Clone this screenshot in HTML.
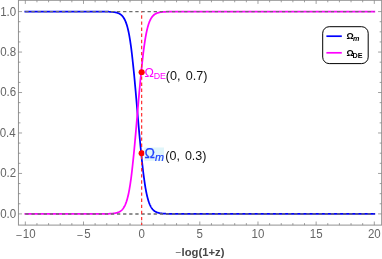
<!DOCTYPE html>
<html><head><meta charset="utf-8"><style>
html,body{margin:0;padding:0;background:#fff}
svg{display:block;will-change:transform;font-family:"Liberation Sans",sans-serif}
</style></head><body>
<svg width="382" height="259" viewBox="0 0 382 259">
<rect width="382" height="259" fill="#fff"/>
<path d="M25.32,11.60 L25.61,11.60 L25.90,11.60 L26.19,11.60 L26.48,11.60 L26.77,11.60 L27.06,11.60 L27.36,11.60 L27.65,11.60 L27.94,11.60 L28.23,11.60 L28.52,11.60 L28.81,11.60 L29.10,11.60 L29.39,11.60 L29.68,11.60 L29.97,11.60 L30.26,11.60 L30.55,11.60 L30.85,11.60 L31.14,11.60 L31.43,11.60 L31.72,11.60 L32.01,11.60 L32.30,11.60 L32.59,11.60 L32.88,11.60 L33.17,11.60 L33.46,11.60 L33.75,11.60 L34.04,11.60 L34.34,11.60 L34.63,11.60 L34.92,11.60 L35.21,11.60 L35.50,11.60 L35.79,11.60 L36.08,11.60 L36.37,11.60 L36.66,11.60 L36.95,11.60 L37.24,11.60 L37.53,11.60 L37.83,11.60 L38.12,11.60 L38.41,11.60 L38.70,11.60 L38.99,11.60 L39.28,11.60 L39.57,11.60 L39.86,11.60 L40.15,11.60 L40.44,11.60 L40.73,11.60 L41.02,11.60 L41.32,11.60 L41.61,11.60 L41.90,11.60 L42.19,11.60 L42.48,11.60 L42.77,11.60 L43.06,11.60 L43.35,11.60 L43.64,11.60 L43.93,11.60 L44.22,11.60 L44.51,11.60 L44.81,11.60 L45.10,11.60 L45.39,11.60 L45.68,11.60 L45.97,11.60 L46.26,11.60 L46.55,11.60 L46.84,11.60 L47.13,11.60 L47.42,11.60 L47.71,11.60 L48.00,11.60 L48.30,11.60 L48.59,11.60 L48.88,11.60 L49.17,11.60 L49.46,11.60 L49.75,11.60 L50.04,11.60 L50.33,11.60 L50.62,11.60 L50.91,11.60 L51.20,11.60 L51.49,11.60 L51.79,11.60 L52.08,11.60 L52.37,11.60 L52.66,11.60 L52.95,11.60 L53.24,11.60 L53.53,11.60 L53.82,11.60 L54.11,11.60 L54.40,11.60 L54.69,11.60 L54.98,11.60 L55.27,11.60 L55.57,11.60 L55.86,11.60 L56.15,11.60 L56.44,11.60 L56.73,11.60 L57.02,11.60 L57.31,11.60 L57.60,11.60 L57.89,11.60 L58.18,11.60 L58.47,11.60 L58.76,11.60 L59.06,11.60 L59.35,11.60 L59.64,11.60 L59.93,11.60 L60.22,11.60 L60.51,11.60 L60.80,11.60 L61.09,11.60 L61.38,11.60 L61.67,11.60 L61.96,11.60 L62.25,11.60 L62.55,11.60 L62.84,11.60 L63.13,11.60 L63.42,11.60 L63.71,11.60 L64.00,11.60 L64.29,11.60 L64.58,11.60 L64.87,11.60 L65.16,11.60 L65.45,11.60 L65.74,11.60 L66.04,11.60 L66.33,11.60 L66.62,11.60 L66.91,11.60 L67.20,11.60 L67.49,11.60 L67.78,11.60 L68.07,11.60 L68.36,11.60 L68.65,11.60 L68.94,11.60 L69.23,11.60 L69.53,11.60 L69.82,11.60 L70.11,11.60 L70.40,11.60 L70.69,11.60 L70.98,11.60 L71.27,11.60 L71.56,11.60 L71.85,11.60 L72.14,11.60 L72.43,11.60 L72.72,11.60 L73.02,11.60 L73.31,11.60 L73.60,11.60 L73.89,11.60 L74.18,11.60 L74.47,11.60 L74.76,11.60 L75.05,11.60 L75.34,11.60 L75.63,11.60 L75.92,11.60 L76.21,11.60 L76.51,11.60 L76.80,11.60 L77.09,11.60 L77.38,11.60 L77.67,11.60 L77.96,11.60 L78.25,11.60 L78.54,11.60 L78.83,11.60 L79.12,11.60 L79.41,11.60 L79.70,11.60 L80.00,11.60 L80.29,11.60 L80.58,11.60 L80.87,11.60 L81.16,11.60 L81.45,11.60 L81.74,11.60 L82.03,11.60 L82.32,11.60 L82.61,11.60 L82.90,11.60 L83.19,11.60 L83.49,11.60 L83.76,11.60 L84.03,11.60 L84.31,11.60 L84.58,11.60 L84.86,11.60 L85.13,11.60 L85.41,11.60 L85.68,11.60 L85.96,11.60 L86.23,11.60 L86.51,11.60 L86.78,11.60 L87.05,11.60 L87.33,11.60 L87.60,11.60 L87.88,11.60 L88.15,11.60 L88.43,11.60 L88.70,11.60 L88.98,11.60 L89.25,11.60 L89.53,11.60 L89.80,11.60 L90.07,11.60 L90.35,11.60 L90.62,11.60 L90.90,11.60 L91.17,11.60 L91.45,11.60 L91.72,11.60 L92.00,11.60 L92.27,11.60 L92.55,11.60 L92.82,11.60 L93.10,11.60 L93.37,11.60 L93.64,11.60 L93.92,11.60 L94.19,11.60 L94.47,11.60 L94.74,11.60 L95.02,11.60 L95.29,11.60 L95.57,11.60 L95.84,11.60 L96.12,11.60 L96.39,11.60 L96.66,11.61 L96.94,11.61 L97.21,11.61 L97.49,11.61 L97.76,11.61 L98.04,11.61 L98.31,11.61 L98.59,11.61 L98.86,11.61 L99.14,11.61 L99.41,11.61 L99.68,11.61 L99.96,11.61 L100.23,11.61 L100.51,11.62 L100.78,11.62 L101.06,11.62 L101.33,11.62 L101.61,11.62 L101.88,11.62 L102.16,11.62 L102.43,11.63 L102.71,11.63 L102.98,11.63 L103.25,11.63 L103.53,11.63 L103.80,11.64 L104.08,11.64 L104.35,11.64 L104.63,11.65 L104.90,11.65 L105.18,11.65 L105.45,11.66 L105.74,11.66 L106.03,11.67 L106.32,11.67 L106.61,11.68 L106.91,11.68 L107.20,11.69 L107.49,11.70 L107.78,11.71 L108.07,11.71 L108.36,11.72 L108.65,11.73 L108.94,11.74 L109.23,11.75 L109.52,11.77 L109.81,11.78 L110.10,11.79 L110.40,11.81 L110.69,11.82 L110.98,11.84 L111.27,11.86 L111.56,11.88 L111.85,11.90 L112.14,11.93 L112.43,11.95 L112.72,11.98 L113.01,12.01 L113.30,12.04 L113.59,12.07 L113.88,12.11 L114.18,12.15 L114.47,12.19 L114.76,12.24 L115.05,12.29 L115.34,12.34 L115.63,12.40 L115.92,12.46 L116.21,12.53 L116.50,12.60 L116.79,12.68 L117.08,12.76 L117.37,12.85 L117.67,12.95 L117.96,13.05 L118.25,13.17 L118.54,13.29 L118.83,13.42 L119.12,13.56 L119.41,13.71 L119.70,13.87 L119.99,14.05 L120.28,14.24 L120.57,14.44 L120.86,14.66 L121.16,14.89 L121.45,15.14 L121.74,15.41 L122.03,15.70 L122.32,16.01 L122.61,16.35 L122.90,16.71 L123.19,17.10 L123.48,17.51 L123.77,17.96 L124.06,18.44 L124.35,18.95 L124.65,19.50 L124.94,20.09 L125.23,20.72 L125.52,21.40 L125.81,22.12 L126.10,22.90 L126.39,23.72 L126.68,24.61 L126.97,25.55 L127.26,26.56 L127.55,27.63 L127.84,28.77 L128.14,29.99 L128.43,31.28 L128.72,32.66 L129.01,34.11 L129.30,35.66 L129.59,37.29 L129.88,39.02 L130.17,40.85 L130.46,42.78 L130.75,44.81 L131.04,46.94 L131.33,49.18 L131.63,51.53 L131.92,53.99 L132.21,56.56 L132.50,59.23 L132.79,62.02 L133.11,64.91 L133.42,67.91 L133.74,71.01 L134.06,74.20 L134.38,77.49 L134.70,80.86 L135.01,84.32 L135.33,87.85 L135.65,91.44 L135.97,95.09 L136.28,98.79 L136.60,102.53 L136.92,106.30 L137.24,110.09 L137.56,113.88 L137.89,117.67 L138.22,121.44 L138.55,125.19 L138.88,128.91 L139.21,132.58 L139.54,136.20 L139.88,139.76 L140.21,143.24 L140.54,146.65 L140.87,149.98 L141.20,153.21 L141.51,156.35 L141.81,159.39 L142.12,162.32 L142.42,165.15 L142.73,167.87 L143.03,170.48 L143.34,172.99 L143.65,175.38 L143.95,177.66 L144.26,179.84 L144.55,181.91 L144.84,183.88 L145.13,185.75 L145.42,187.52 L145.71,189.19 L146.00,190.77 L146.29,192.26 L146.58,193.67 L146.88,195.00 L147.17,196.24 L147.46,197.41 L147.75,198.52 L148.04,199.55 L148.33,200.52 L148.62,201.42 L148.91,202.27 L149.20,203.07 L149.49,203.81 L149.78,204.51 L150.07,205.16 L150.37,205.76 L150.66,206.33 L150.95,206.86 L151.24,207.35 L151.53,207.81 L151.82,208.24 L152.11,208.63 L152.40,209.01 L152.69,209.35 L152.98,209.67 L153.27,209.97 L153.56,210.25 L153.86,210.51 L154.15,210.75 L154.44,210.98 L154.73,211.18 L155.02,211.38 L155.31,211.56 L155.60,211.73 L155.89,211.88 L156.18,212.03 L156.47,212.16 L156.76,212.28 L157.05,212.40 L157.35,212.51 L157.64,212.61 L157.93,212.70 L158.22,212.79 L158.51,212.87 L158.80,212.94 L159.09,213.01 L159.38,213.07 L159.67,213.13 L159.96,213.19 L160.25,213.24 L160.54,213.29 L160.84,213.33 L161.13,213.37 L161.42,213.41 L161.71,213.45 L162.00,213.48 L162.29,213.51 L162.58,213.54 L162.87,213.56 L163.16,213.59 L163.45,213.61 L163.74,213.63 L164.03,213.65 L164.33,213.67 L164.62,213.69 L164.91,213.70 L165.20,213.72 L165.49,213.73 L165.78,213.74 L166.07,213.75 L166.36,213.76 L166.65,213.77 L166.94,213.78 L167.23,213.79 L167.52,213.80 L167.82,213.81 L168.11,213.81 L168.40,213.82 L168.69,213.82 L168.98,213.83 L169.27,213.84 L169.56,213.84 L169.85,213.84 L170.14,213.85 L170.43,213.85 L170.72,213.86 L171.01,213.86 L171.30,213.86 L171.60,213.86 L171.89,213.87 L172.18,213.87 L172.47,213.87 L172.76,213.87 L173.05,213.88 L173.34,213.88 L173.63,213.88 L173.92,213.88 L174.21,213.88 L174.50,213.88 L174.79,213.88 L175.09,213.89 L175.38,213.89 L175.67,213.89 L175.96,213.89 L176.25,213.89 L176.54,213.89 L176.84,213.89 L177.13,213.89 L177.43,213.89 L177.72,213.89 L178.02,213.89 L178.31,213.89 L178.61,213.89 L178.90,213.89 L179.19,213.89 L179.49,213.90 L179.78,213.90 L180.08,213.90 L180.37,213.90 L180.67,213.90 L180.96,213.90 L181.26,213.90 L181.55,213.90 L181.85,213.90 L182.14,213.90 L182.44,213.90 L182.73,213.90 L183.02,213.90 L183.32,213.90 L183.61,213.90 L183.91,213.90 L184.20,213.90 L184.50,213.90 L184.79,213.90 L185.09,213.90 L185.38,213.90 L185.68,213.90 L185.97,213.90 L186.26,213.90 L186.56,213.90 L186.85,213.90 L187.15,213.90 L187.44,213.90 L187.74,213.90 L188.03,213.90 L188.33,213.90 L188.62,213.90 L188.92,213.90 L189.21,213.90 L189.50,213.90 L189.80,213.90 L190.09,213.90 L190.39,213.90 L190.68,213.90 L190.98,213.90 L191.27,213.90 L191.57,213.90 L191.86,213.90 L192.16,213.90 L192.45,213.90 L192.75,213.90 L193.04,213.90 L193.33,213.90 L193.63,213.90 L193.92,213.90 L194.22,213.90 L194.51,213.90 L194.81,213.90 L195.10,213.90 L195.40,213.90 L195.69,213.90 L195.99,213.90 L196.28,213.90 L196.57,213.90 L196.87,213.90 L197.16,213.90 L197.46,213.90 L197.75,213.90 L198.05,213.90 L198.34,213.90 L198.64,213.90 L198.93,213.90 L199.23,213.90 L199.52,213.90 L199.81,213.90 L200.11,213.90 L200.40,213.90 L200.69,213.90 L200.98,213.90 L201.27,213.90 L201.56,213.90 L201.85,213.90 L202.14,213.90 L202.43,213.90 L202.72,213.90 L203.01,213.90 L203.30,213.90 L203.60,213.90 L203.89,213.90 L204.18,213.90 L204.47,213.90 L204.76,213.90 L205.05,213.90 L205.34,213.90 L205.63,213.90 L205.92,213.90 L206.21,213.90 L206.50,213.90 L206.79,213.90 L207.09,213.90 L207.38,213.90 L207.67,213.90 L207.96,213.90 L208.25,213.90 L208.54,213.90 L208.83,213.90 L209.12,213.90 L209.41,213.90 L209.70,213.90 L209.99,213.90 L210.28,213.90 L210.58,213.90 L210.87,213.90 L211.16,213.90 L211.45,213.90 L211.74,213.90 L212.03,213.90 L212.32,213.90 L212.61,213.90 L212.90,213.90 L213.19,213.90 L213.48,213.90 L213.77,213.90 L214.07,213.90 L214.36,213.90 L214.65,213.90 L214.94,213.90 L215.23,213.90 L215.52,213.90 L215.81,213.90 L216.10,213.90 L216.39,213.90 L216.68,213.90 L216.97,213.90 L217.26,213.90 L217.56,213.90 L217.85,213.90 L218.14,213.90 L218.43,213.90 L218.72,213.90 L219.01,213.90 L219.30,213.90 L219.59,213.90 L219.88,213.90 L220.17,213.90 L220.46,213.90 L220.75,213.90 L221.05,213.90 L221.34,213.90 L221.63,213.90 L221.92,213.90 L222.21,213.90 L222.50,213.90 L222.79,213.90 L223.08,213.90 L223.37,213.90 L223.66,213.90 L223.95,213.90 L224.24,213.90 L224.54,213.90 L224.83,213.90 L225.12,213.90 L225.41,213.90 L225.70,213.90 L225.99,213.90 L226.28,213.90 L226.57,213.90 L226.86,213.90 L227.15,213.90 L227.44,213.90 L227.73,213.90 L228.03,213.90 L228.32,213.90 L228.61,213.90 L228.90,213.90 L229.19,213.90 L229.48,213.90 L229.77,213.90 L230.06,213.90 L230.35,213.90 L230.64,213.90 L230.93,213.90 L231.22,213.90 L231.51,213.90 L231.81,213.90 L232.10,213.90 L232.39,213.90 L232.68,213.90 L232.97,213.90 L233.26,213.90 L233.55,213.90 L233.84,213.90 L234.13,213.90 L234.42,213.90 L234.71,213.90 L235.00,213.90 L235.30,213.90 L235.59,213.90 L235.88,213.90 L236.17,213.90 L236.46,213.90 L236.75,213.90 L237.04,213.90 L237.33,213.90 L237.62,213.90 L237.91,213.90 L238.20,213.90 L238.49,213.90 L238.79,213.90 L239.08,213.90 L239.37,213.90 L239.66,213.90 L239.95,213.90 L240.24,213.90 L240.53,213.90 L240.82,213.90 L241.11,213.90 L241.40,213.90 L241.69,213.90 L241.98,213.90 L242.28,213.90 L242.57,213.90 L242.86,213.90 L243.15,213.90 L243.44,213.90 L243.73,213.90 L244.02,213.90 L244.31,213.90 L244.60,213.90 L244.89,213.90 L245.18,213.90 L245.47,213.90 L245.77,213.90 L246.06,213.90 L246.35,213.90 L246.64,213.90 L246.93,213.90 L247.22,213.90 L247.51,213.90 L247.80,213.90 L248.09,213.90 L248.38,213.90 L248.67,213.90 L248.96,213.90 L249.26,213.90 L249.55,213.90 L249.84,213.90 L250.13,213.90 L250.42,213.90 L250.71,213.90 L251.00,213.90 L251.29,213.90 L251.58,213.90 L251.87,213.90 L252.16,213.90 L252.45,213.90 L252.75,213.90 L253.04,213.90 L253.33,213.90 L253.62,213.90 L253.91,213.90 L254.20,213.90 L254.49,213.90 L254.78,213.90 L255.07,213.90 L255.36,213.90 L255.65,213.90 L255.94,213.90 L256.24,213.90 L256.53,213.90 L256.82,213.90 L257.11,213.90 L257.40,213.90 L257.69,213.90 L257.98,213.90 L258.27,213.90 L258.56,213.90 L258.85,213.90 L259.14,213.90 L259.43,213.90 L259.72,213.90 L260.02,213.90 L260.31,213.90 L260.60,213.90 L260.89,213.90 L261.18,213.90 L261.47,213.90 L261.76,213.90 L262.05,213.90 L262.34,213.90 L262.63,213.90 L262.92,213.90 L263.21,213.90 L263.51,213.90 L263.80,213.90 L264.09,213.90 L264.38,213.90 L264.67,213.90 L264.96,213.90 L265.25,213.90 L265.54,213.90 L265.83,213.90 L266.12,213.90 L266.41,213.90 L266.70,213.90 L267.00,213.90 L267.29,213.90 L267.58,213.90 L267.87,213.90 L268.16,213.90 L268.45,213.90 L268.74,213.90 L269.03,213.90 L269.32,213.90 L269.61,213.90 L269.90,213.90 L270.19,213.90 L270.49,213.90 L270.78,213.90 L271.07,213.90 L271.36,213.90 L271.65,213.90 L271.94,213.90 L272.23,213.90 L272.52,213.90 L272.81,213.90 L273.10,213.90 L273.39,213.90 L273.68,213.90 L273.98,213.90 L274.27,213.90 L274.56,213.90 L274.85,213.90 L275.14,213.90 L275.43,213.90 L275.72,213.90 L276.01,213.90 L276.30,213.90 L276.59,213.90 L276.88,213.90 L277.17,213.90 L277.47,213.90 L277.76,213.90 L278.05,213.90 L278.34,213.90 L278.63,213.90 L278.92,213.90 L279.21,213.90 L279.50,213.90 L279.79,213.90 L280.08,213.90 L280.37,213.90 L280.66,213.90 L280.96,213.90 L281.25,213.90 L281.54,213.90 L281.83,213.90 L282.12,213.90 L282.41,213.90 L282.70,213.90 L282.99,213.90 L283.28,213.90 L283.57,213.90 L283.86,213.90 L284.15,213.90 L284.45,213.90 L284.74,213.90 L285.03,213.90 L285.32,213.90 L285.61,213.90 L285.90,213.90 L286.19,213.90 L286.48,213.90 L286.77,213.90 L287.06,213.90 L287.35,213.90 L287.64,213.90 L287.93,213.90 L288.23,213.90 L288.52,213.90 L288.81,213.90 L289.10,213.90 L289.39,213.90 L289.68,213.90 L289.97,213.90 L290.26,213.90 L290.55,213.90 L290.84,213.90 L291.13,213.90 L291.42,213.90 L291.72,213.90 L292.01,213.90 L292.30,213.90 L292.59,213.90 L292.88,213.90 L293.17,213.90 L293.46,213.90 L293.75,213.90 L294.04,213.90 L294.33,213.90 L294.62,213.90 L294.91,213.90 L295.21,213.90 L295.50,213.90 L295.79,213.90 L296.08,213.90 L296.37,213.90 L296.66,213.90 L296.95,213.90 L297.24,213.90 L297.53,213.90 L297.82,213.90 L298.11,213.90 L298.40,213.90 L298.70,213.90 L298.99,213.90 L299.28,213.90 L299.57,213.90 L299.86,213.90 L300.15,213.90 L300.44,213.90 L300.73,213.90 L301.02,213.90 L301.31,213.90 L301.60,213.90 L301.89,213.90 L302.19,213.90 L302.48,213.90 L302.77,213.90 L303.06,213.90 L303.35,213.90 L303.64,213.90 L303.93,213.90 L304.22,213.90 L304.51,213.90 L304.80,213.90 L305.09,213.90 L305.38,213.90 L305.68,213.90 L305.97,213.90 L306.26,213.90 L306.55,213.90 L306.84,213.90 L307.13,213.90 L307.42,213.90 L307.71,213.90 L308.00,213.90 L308.29,213.90 L308.58,213.90 L308.87,213.90 L309.17,213.90 L309.46,213.90 L309.75,213.90 L310.04,213.90 L310.33,213.90 L310.62,213.90 L310.91,213.90 L311.20,213.90 L311.49,213.90 L311.78,213.90 L312.07,213.90 L312.36,213.90 L312.66,213.90 L312.95,213.90 L313.24,213.90 L313.53,213.90 L313.82,213.90 L314.11,213.90 L314.40,213.90 L314.69,213.90 L314.98,213.90 L315.27,213.90 L315.56,213.90 L315.85,213.90 L316.14,213.90 L316.44,213.90 L316.73,213.90 L317.02,213.90 L317.31,213.90 L317.60,213.90 L317.89,213.90 L318.18,213.90 L318.47,213.90 L318.76,213.90 L319.05,213.90 L319.34,213.90 L319.63,213.90 L319.93,213.90 L320.22,213.90 L320.51,213.90 L320.80,213.90 L321.09,213.90 L321.38,213.90 L321.67,213.90 L321.96,213.90 L322.25,213.90 L322.54,213.90 L322.83,213.90 L323.12,213.90 L323.42,213.90 L323.71,213.90 L324.00,213.90 L324.29,213.90 L324.58,213.90 L324.87,213.90 L325.16,213.90 L325.45,213.90 L325.74,213.90 L326.03,213.90 L326.32,213.90 L326.61,213.90 L326.91,213.90 L327.20,213.90 L327.49,213.90 L327.78,213.90 L328.07,213.90 L328.36,213.90 L328.65,213.90 L328.94,213.90 L329.23,213.90 L329.52,213.90 L329.81,213.90 L330.10,213.90 L330.40,213.90 L330.69,213.90 L330.98,213.90 L331.27,213.90 L331.56,213.90 L331.85,213.90 L332.14,213.90 L332.43,213.90 L332.72,213.90 L333.01,213.90 L333.30,213.90 L333.59,213.90 L333.89,213.90 L334.18,213.90 L334.47,213.90 L334.76,213.90 L335.05,213.90 L335.34,213.90 L335.63,213.90 L335.92,213.90 L336.21,213.90 L336.50,213.90 L336.79,213.90 L337.08,213.90 L337.38,213.90 L337.67,213.90 L337.96,213.90 L338.25,213.90 L338.54,213.90 L338.83,213.90 L339.12,213.90 L339.41,213.90 L339.70,213.90 L339.99,213.90 L340.28,213.90 L340.57,213.90 L340.87,213.90 L341.16,213.90 L341.45,213.90 L341.74,213.90 L342.03,213.90 L342.32,213.90 L342.61,213.90 L342.90,213.90 L343.19,213.90 L343.48,213.90 L343.77,213.90 L344.06,213.90 L344.36,213.90 L344.65,213.90 L344.94,213.90 L345.23,213.90 L345.52,213.90 L345.81,213.90 L346.10,213.90 L346.39,213.90 L346.68,213.90 L346.97,213.90 L347.26,213.90 L347.55,213.90 L347.84,213.90 L348.14,213.90 L348.43,213.90 L348.72,213.90 L349.01,213.90 L349.30,213.90 L349.59,213.90 L349.88,213.90 L350.17,213.90 L350.46,213.90 L350.75,213.90 L351.04,213.90 L351.33,213.90 L351.63,213.90 L351.92,213.90 L352.21,213.90 L352.50,213.90 L352.79,213.90 L353.08,213.90 L353.37,213.90 L353.66,213.90 L353.95,213.90 L354.24,213.90 L354.53,213.90 L354.82,213.90 L355.12,213.90 L355.41,213.90 L355.70,213.90 L355.99,213.90 L356.28,213.90 L356.57,213.90 L356.86,213.90 L357.15,213.90 L357.44,213.90 L357.73,213.90 L358.02,213.90 L358.31,213.90 L358.61,213.90 L358.90,213.90 L359.19,213.90 L359.48,213.90 L359.77,213.90 L360.06,213.90 L360.35,213.90 L360.64,213.90 L360.93,213.90 L361.22,213.90 L361.51,213.90 L361.80,213.90 L362.10,213.90 L362.39,213.90 L362.68,213.90 L362.97,213.90 L363.26,213.90 L363.55,213.90 L363.84,213.90 L364.13,213.90 L364.42,213.90 L364.71,213.90 L365.00,213.90 L365.29,213.90 L365.59,213.90 L365.88,213.90 L366.17,213.90 L366.46,213.90 L366.75,213.90 L367.04,213.90 L367.33,213.90 L367.62,213.90 L367.91,213.90 L368.20,213.90 L368.49,213.90 L368.78,213.90 L369.08,213.90 L369.37,213.90 L369.66,213.90 L369.95,213.90 L370.24,213.90 L370.53,213.90 L370.82,213.90 L371.11,213.90 L371.40,213.90 L371.69,213.90 L371.98,213.90 L372.27,213.90 L372.57,213.90 L372.86,213.90 L373.15,213.90 L373.44,213.90 L373.73,213.90 L374.02,213.90 L374.31,213.90" fill="none" stroke="#0000ff" stroke-width="1.75" stroke-linejoin="round" stroke-linecap="square"/>
<path d="M25.32,213.90 L25.61,213.90 L25.90,213.90 L26.19,213.90 L26.48,213.90 L26.77,213.90 L27.06,213.90 L27.36,213.90 L27.65,213.90 L27.94,213.90 L28.23,213.90 L28.52,213.90 L28.81,213.90 L29.10,213.90 L29.39,213.90 L29.68,213.90 L29.97,213.90 L30.26,213.90 L30.55,213.90 L30.85,213.90 L31.14,213.90 L31.43,213.90 L31.72,213.90 L32.01,213.90 L32.30,213.90 L32.59,213.90 L32.88,213.90 L33.17,213.90 L33.46,213.90 L33.75,213.90 L34.04,213.90 L34.34,213.90 L34.63,213.90 L34.92,213.90 L35.21,213.90 L35.50,213.90 L35.79,213.90 L36.08,213.90 L36.37,213.90 L36.66,213.90 L36.95,213.90 L37.24,213.90 L37.53,213.90 L37.83,213.90 L38.12,213.90 L38.41,213.90 L38.70,213.90 L38.99,213.90 L39.28,213.90 L39.57,213.90 L39.86,213.90 L40.15,213.90 L40.44,213.90 L40.73,213.90 L41.02,213.90 L41.32,213.90 L41.61,213.90 L41.90,213.90 L42.19,213.90 L42.48,213.90 L42.77,213.90 L43.06,213.90 L43.35,213.90 L43.64,213.90 L43.93,213.90 L44.22,213.90 L44.51,213.90 L44.81,213.90 L45.10,213.90 L45.39,213.90 L45.68,213.90 L45.97,213.90 L46.26,213.90 L46.55,213.90 L46.84,213.90 L47.13,213.90 L47.42,213.90 L47.71,213.90 L48.00,213.90 L48.30,213.90 L48.59,213.90 L48.88,213.90 L49.17,213.90 L49.46,213.90 L49.75,213.90 L50.04,213.90 L50.33,213.90 L50.62,213.90 L50.91,213.90 L51.20,213.90 L51.49,213.90 L51.79,213.90 L52.08,213.90 L52.37,213.90 L52.66,213.90 L52.95,213.90 L53.24,213.90 L53.53,213.90 L53.82,213.90 L54.11,213.90 L54.40,213.90 L54.69,213.90 L54.98,213.90 L55.27,213.90 L55.57,213.90 L55.86,213.90 L56.15,213.90 L56.44,213.90 L56.73,213.90 L57.02,213.90 L57.31,213.90 L57.60,213.90 L57.89,213.90 L58.18,213.90 L58.47,213.90 L58.76,213.90 L59.06,213.90 L59.35,213.90 L59.64,213.90 L59.93,213.90 L60.22,213.90 L60.51,213.90 L60.80,213.90 L61.09,213.90 L61.38,213.90 L61.67,213.90 L61.96,213.90 L62.25,213.90 L62.55,213.90 L62.84,213.90 L63.13,213.90 L63.42,213.90 L63.71,213.90 L64.00,213.90 L64.29,213.90 L64.58,213.90 L64.87,213.90 L65.16,213.90 L65.45,213.90 L65.74,213.90 L66.04,213.90 L66.33,213.90 L66.62,213.90 L66.91,213.90 L67.20,213.90 L67.49,213.90 L67.78,213.90 L68.07,213.90 L68.36,213.90 L68.65,213.90 L68.94,213.90 L69.23,213.90 L69.53,213.90 L69.82,213.90 L70.11,213.90 L70.40,213.90 L70.69,213.90 L70.98,213.90 L71.27,213.90 L71.56,213.90 L71.85,213.90 L72.14,213.90 L72.43,213.90 L72.72,213.90 L73.02,213.90 L73.31,213.90 L73.60,213.90 L73.89,213.90 L74.18,213.90 L74.47,213.90 L74.76,213.90 L75.05,213.90 L75.34,213.90 L75.63,213.90 L75.92,213.90 L76.21,213.90 L76.51,213.90 L76.80,213.90 L77.09,213.90 L77.38,213.90 L77.67,213.90 L77.96,213.90 L78.25,213.90 L78.54,213.90 L78.83,213.90 L79.12,213.90 L79.41,213.90 L79.70,213.90 L80.00,213.90 L80.29,213.90 L80.58,213.90 L80.87,213.90 L81.16,213.90 L81.45,213.90 L81.74,213.90 L82.03,213.90 L82.32,213.90 L82.61,213.90 L82.90,213.90 L83.19,213.90 L83.49,213.90 L83.76,213.90 L84.03,213.90 L84.31,213.90 L84.58,213.90 L84.86,213.90 L85.13,213.90 L85.41,213.90 L85.68,213.90 L85.96,213.90 L86.23,213.90 L86.51,213.90 L86.78,213.90 L87.05,213.90 L87.33,213.90 L87.60,213.90 L87.88,213.90 L88.15,213.90 L88.43,213.90 L88.70,213.90 L88.98,213.90 L89.25,213.90 L89.53,213.90 L89.80,213.90 L90.07,213.90 L90.35,213.90 L90.62,213.90 L90.90,213.90 L91.17,213.90 L91.45,213.90 L91.72,213.90 L92.00,213.90 L92.27,213.90 L92.55,213.90 L92.82,213.90 L93.10,213.90 L93.37,213.90 L93.64,213.90 L93.92,213.90 L94.19,213.90 L94.47,213.90 L94.74,213.90 L95.02,213.90 L95.29,213.90 L95.57,213.90 L95.84,213.90 L96.12,213.90 L96.39,213.90 L96.66,213.89 L96.94,213.89 L97.21,213.89 L97.49,213.89 L97.76,213.89 L98.04,213.89 L98.31,213.89 L98.59,213.89 L98.86,213.89 L99.14,213.89 L99.41,213.89 L99.68,213.89 L99.96,213.89 L100.23,213.89 L100.51,213.88 L100.78,213.88 L101.06,213.88 L101.33,213.88 L101.61,213.88 L101.88,213.88 L102.16,213.88 L102.43,213.87 L102.71,213.87 L102.98,213.87 L103.25,213.87 L103.53,213.87 L103.80,213.86 L104.08,213.86 L104.35,213.86 L104.63,213.85 L104.90,213.85 L105.18,213.85 L105.45,213.84 L105.74,213.84 L106.03,213.83 L106.32,213.83 L106.61,213.82 L106.91,213.82 L107.20,213.81 L107.49,213.80 L107.78,213.79 L108.07,213.79 L108.36,213.78 L108.65,213.77 L108.94,213.76 L109.23,213.75 L109.52,213.73 L109.81,213.72 L110.10,213.71 L110.40,213.69 L110.69,213.68 L110.98,213.66 L111.27,213.64 L111.56,213.62 L111.85,213.60 L112.14,213.57 L112.43,213.55 L112.72,213.52 L113.01,213.49 L113.30,213.46 L113.59,213.43 L113.88,213.39 L114.18,213.35 L114.47,213.31 L114.76,213.26 L115.05,213.21 L115.34,213.16 L115.63,213.10 L115.92,213.04 L116.21,212.97 L116.50,212.90 L116.79,212.82 L117.08,212.74 L117.37,212.65 L117.67,212.55 L117.96,212.45 L118.25,212.33 L118.54,212.21 L118.83,212.08 L119.12,211.94 L119.41,211.79 L119.70,211.63 L119.99,211.45 L120.28,211.26 L120.57,211.06 L120.86,210.84 L121.16,210.61 L121.45,210.36 L121.74,210.09 L122.03,209.80 L122.32,209.49 L122.61,209.15 L122.90,208.79 L123.19,208.40 L123.48,207.99 L123.77,207.54 L124.06,207.06 L124.35,206.55 L124.65,206.00 L124.94,205.41 L125.23,204.78 L125.52,204.10 L125.81,203.38 L126.10,202.60 L126.39,201.78 L126.68,200.89 L126.97,199.95 L127.26,198.94 L127.55,197.87 L127.84,196.73 L128.14,195.51 L128.43,194.22 L128.72,192.84 L129.01,191.39 L129.30,189.84 L129.59,188.21 L129.88,186.48 L130.17,184.65 L130.46,182.72 L130.75,180.69 L131.04,178.56 L131.33,176.32 L131.63,173.97 L131.92,171.51 L132.21,168.94 L132.50,166.27 L132.79,163.48 L133.11,160.59 L133.42,157.59 L133.74,154.49 L134.06,151.30 L134.38,148.01 L134.70,144.64 L135.01,141.18 L135.33,137.65 L135.65,134.06 L135.97,130.41 L136.28,126.71 L136.60,122.97 L136.92,119.20 L137.24,115.41 L137.56,111.62 L137.89,107.83 L138.22,104.06 L138.55,100.31 L138.88,96.59 L139.21,92.92 L139.54,89.30 L139.88,85.74 L140.21,82.26 L140.54,78.85 L140.87,75.52 L141.20,72.29 L141.51,69.15 L141.81,66.11 L142.12,63.18 L142.42,60.35 L142.73,57.63 L143.03,55.02 L143.34,52.51 L143.65,50.12 L143.95,47.84 L144.26,45.66 L144.55,43.59 L144.84,41.62 L145.13,39.75 L145.42,37.98 L145.71,36.31 L146.00,34.73 L146.29,33.24 L146.58,31.83 L146.88,30.50 L147.17,29.26 L147.46,28.09 L147.75,26.98 L148.04,25.95 L148.33,24.98 L148.62,24.08 L148.91,23.23 L149.20,22.43 L149.49,21.69 L149.78,20.99 L150.07,20.34 L150.37,19.74 L150.66,19.17 L150.95,18.64 L151.24,18.15 L151.53,17.69 L151.82,17.26 L152.11,16.87 L152.40,16.49 L152.69,16.15 L152.98,15.83 L153.27,15.53 L153.56,15.25 L153.86,14.99 L154.15,14.75 L154.44,14.52 L154.73,14.32 L155.02,14.12 L155.31,13.94 L155.60,13.77 L155.89,13.62 L156.18,13.47 L156.47,13.34 L156.76,13.22 L157.05,13.10 L157.35,12.99 L157.64,12.89 L157.93,12.80 L158.22,12.71 L158.51,12.63 L158.80,12.56 L159.09,12.49 L159.38,12.43 L159.67,12.37 L159.96,12.31 L160.25,12.26 L160.54,12.21 L160.84,12.17 L161.13,12.13 L161.42,12.09 L161.71,12.05 L162.00,12.02 L162.29,11.99 L162.58,11.96 L162.87,11.94 L163.16,11.91 L163.45,11.89 L163.74,11.87 L164.03,11.85 L164.33,11.83 L164.62,11.81 L164.91,11.80 L165.20,11.78 L165.49,11.77 L165.78,11.76 L166.07,11.75 L166.36,11.74 L166.65,11.73 L166.94,11.72 L167.23,11.71 L167.52,11.70 L167.82,11.69 L168.11,11.69 L168.40,11.68 L168.69,11.68 L168.98,11.67 L169.27,11.66 L169.56,11.66 L169.85,11.66 L170.14,11.65 L170.43,11.65 L170.72,11.64 L171.01,11.64 L171.30,11.64 L171.60,11.64 L171.89,11.63 L172.18,11.63 L172.47,11.63 L172.76,11.63 L173.05,11.62 L173.34,11.62 L173.63,11.62 L173.92,11.62 L174.21,11.62 L174.50,11.62 L174.79,11.62 L175.09,11.61 L175.38,11.61 L175.67,11.61 L175.96,11.61 L176.25,11.61 L176.54,11.61 L176.84,11.61 L177.13,11.61 L177.43,11.61 L177.72,11.61 L178.02,11.61 L178.31,11.61 L178.61,11.61 L178.90,11.61 L179.19,11.61 L179.49,11.60 L179.78,11.60 L180.08,11.60 L180.37,11.60 L180.67,11.60 L180.96,11.60 L181.26,11.60 L181.55,11.60 L181.85,11.60 L182.14,11.60 L182.44,11.60 L182.73,11.60 L183.02,11.60 L183.32,11.60 L183.61,11.60 L183.91,11.60 L184.20,11.60 L184.50,11.60 L184.79,11.60 L185.09,11.60 L185.38,11.60 L185.68,11.60 L185.97,11.60 L186.26,11.60 L186.56,11.60 L186.85,11.60 L187.15,11.60 L187.44,11.60 L187.74,11.60 L188.03,11.60 L188.33,11.60 L188.62,11.60 L188.92,11.60 L189.21,11.60 L189.50,11.60 L189.80,11.60 L190.09,11.60 L190.39,11.60 L190.68,11.60 L190.98,11.60 L191.27,11.60 L191.57,11.60 L191.86,11.60 L192.16,11.60 L192.45,11.60 L192.75,11.60 L193.04,11.60 L193.33,11.60 L193.63,11.60 L193.92,11.60 L194.22,11.60 L194.51,11.60 L194.81,11.60 L195.10,11.60 L195.40,11.60 L195.69,11.60 L195.99,11.60 L196.28,11.60 L196.57,11.60 L196.87,11.60 L197.16,11.60 L197.46,11.60 L197.75,11.60 L198.05,11.60 L198.34,11.60 L198.64,11.60 L198.93,11.60 L199.23,11.60 L199.52,11.60 L199.81,11.60 L200.11,11.60 L200.40,11.60 L200.69,11.60 L200.98,11.60 L201.27,11.60 L201.56,11.60 L201.85,11.60 L202.14,11.60 L202.43,11.60 L202.72,11.60 L203.01,11.60 L203.30,11.60 L203.60,11.60 L203.89,11.60 L204.18,11.60 L204.47,11.60 L204.76,11.60 L205.05,11.60 L205.34,11.60 L205.63,11.60 L205.92,11.60 L206.21,11.60 L206.50,11.60 L206.79,11.60 L207.09,11.60 L207.38,11.60 L207.67,11.60 L207.96,11.60 L208.25,11.60 L208.54,11.60 L208.83,11.60 L209.12,11.60 L209.41,11.60 L209.70,11.60 L209.99,11.60 L210.28,11.60 L210.58,11.60 L210.87,11.60 L211.16,11.60 L211.45,11.60 L211.74,11.60 L212.03,11.60 L212.32,11.60 L212.61,11.60 L212.90,11.60 L213.19,11.60 L213.48,11.60 L213.77,11.60 L214.07,11.60 L214.36,11.60 L214.65,11.60 L214.94,11.60 L215.23,11.60 L215.52,11.60 L215.81,11.60 L216.10,11.60 L216.39,11.60 L216.68,11.60 L216.97,11.60 L217.26,11.60 L217.56,11.60 L217.85,11.60 L218.14,11.60 L218.43,11.60 L218.72,11.60 L219.01,11.60 L219.30,11.60 L219.59,11.60 L219.88,11.60 L220.17,11.60 L220.46,11.60 L220.75,11.60 L221.05,11.60 L221.34,11.60 L221.63,11.60 L221.92,11.60 L222.21,11.60 L222.50,11.60 L222.79,11.60 L223.08,11.60 L223.37,11.60 L223.66,11.60 L223.95,11.60 L224.24,11.60 L224.54,11.60 L224.83,11.60 L225.12,11.60 L225.41,11.60 L225.70,11.60 L225.99,11.60 L226.28,11.60 L226.57,11.60 L226.86,11.60 L227.15,11.60 L227.44,11.60 L227.73,11.60 L228.03,11.60 L228.32,11.60 L228.61,11.60 L228.90,11.60 L229.19,11.60 L229.48,11.60 L229.77,11.60 L230.06,11.60 L230.35,11.60 L230.64,11.60 L230.93,11.60 L231.22,11.60 L231.51,11.60 L231.81,11.60 L232.10,11.60 L232.39,11.60 L232.68,11.60 L232.97,11.60 L233.26,11.60 L233.55,11.60 L233.84,11.60 L234.13,11.60 L234.42,11.60 L234.71,11.60 L235.00,11.60 L235.30,11.60 L235.59,11.60 L235.88,11.60 L236.17,11.60 L236.46,11.60 L236.75,11.60 L237.04,11.60 L237.33,11.60 L237.62,11.60 L237.91,11.60 L238.20,11.60 L238.49,11.60 L238.79,11.60 L239.08,11.60 L239.37,11.60 L239.66,11.60 L239.95,11.60 L240.24,11.60 L240.53,11.60 L240.82,11.60 L241.11,11.60 L241.40,11.60 L241.69,11.60 L241.98,11.60 L242.28,11.60 L242.57,11.60 L242.86,11.60 L243.15,11.60 L243.44,11.60 L243.73,11.60 L244.02,11.60 L244.31,11.60 L244.60,11.60 L244.89,11.60 L245.18,11.60 L245.47,11.60 L245.77,11.60 L246.06,11.60 L246.35,11.60 L246.64,11.60 L246.93,11.60 L247.22,11.60 L247.51,11.60 L247.80,11.60 L248.09,11.60 L248.38,11.60 L248.67,11.60 L248.96,11.60 L249.26,11.60 L249.55,11.60 L249.84,11.60 L250.13,11.60 L250.42,11.60 L250.71,11.60 L251.00,11.60 L251.29,11.60 L251.58,11.60 L251.87,11.60 L252.16,11.60 L252.45,11.60 L252.75,11.60 L253.04,11.60 L253.33,11.60 L253.62,11.60 L253.91,11.60 L254.20,11.60 L254.49,11.60 L254.78,11.60 L255.07,11.60 L255.36,11.60 L255.65,11.60 L255.94,11.60 L256.24,11.60 L256.53,11.60 L256.82,11.60 L257.11,11.60 L257.40,11.60 L257.69,11.60 L257.98,11.60 L258.27,11.60 L258.56,11.60 L258.85,11.60 L259.14,11.60 L259.43,11.60 L259.72,11.60 L260.02,11.60 L260.31,11.60 L260.60,11.60 L260.89,11.60 L261.18,11.60 L261.47,11.60 L261.76,11.60 L262.05,11.60 L262.34,11.60 L262.63,11.60 L262.92,11.60 L263.21,11.60 L263.51,11.60 L263.80,11.60 L264.09,11.60 L264.38,11.60 L264.67,11.60 L264.96,11.60 L265.25,11.60 L265.54,11.60 L265.83,11.60 L266.12,11.60 L266.41,11.60 L266.70,11.60 L267.00,11.60 L267.29,11.60 L267.58,11.60 L267.87,11.60 L268.16,11.60 L268.45,11.60 L268.74,11.60 L269.03,11.60 L269.32,11.60 L269.61,11.60 L269.90,11.60 L270.19,11.60 L270.49,11.60 L270.78,11.60 L271.07,11.60 L271.36,11.60 L271.65,11.60 L271.94,11.60 L272.23,11.60 L272.52,11.60 L272.81,11.60 L273.10,11.60 L273.39,11.60 L273.68,11.60 L273.98,11.60 L274.27,11.60 L274.56,11.60 L274.85,11.60 L275.14,11.60 L275.43,11.60 L275.72,11.60 L276.01,11.60 L276.30,11.60 L276.59,11.60 L276.88,11.60 L277.17,11.60 L277.47,11.60 L277.76,11.60 L278.05,11.60 L278.34,11.60 L278.63,11.60 L278.92,11.60 L279.21,11.60 L279.50,11.60 L279.79,11.60 L280.08,11.60 L280.37,11.60 L280.66,11.60 L280.96,11.60 L281.25,11.60 L281.54,11.60 L281.83,11.60 L282.12,11.60 L282.41,11.60 L282.70,11.60 L282.99,11.60 L283.28,11.60 L283.57,11.60 L283.86,11.60 L284.15,11.60 L284.45,11.60 L284.74,11.60 L285.03,11.60 L285.32,11.60 L285.61,11.60 L285.90,11.60 L286.19,11.60 L286.48,11.60 L286.77,11.60 L287.06,11.60 L287.35,11.60 L287.64,11.60 L287.93,11.60 L288.23,11.60 L288.52,11.60 L288.81,11.60 L289.10,11.60 L289.39,11.60 L289.68,11.60 L289.97,11.60 L290.26,11.60 L290.55,11.60 L290.84,11.60 L291.13,11.60 L291.42,11.60 L291.72,11.60 L292.01,11.60 L292.30,11.60 L292.59,11.60 L292.88,11.60 L293.17,11.60 L293.46,11.60 L293.75,11.60 L294.04,11.60 L294.33,11.60 L294.62,11.60 L294.91,11.60 L295.21,11.60 L295.50,11.60 L295.79,11.60 L296.08,11.60 L296.37,11.60 L296.66,11.60 L296.95,11.60 L297.24,11.60 L297.53,11.60 L297.82,11.60 L298.11,11.60 L298.40,11.60 L298.70,11.60 L298.99,11.60 L299.28,11.60 L299.57,11.60 L299.86,11.60 L300.15,11.60 L300.44,11.60 L300.73,11.60 L301.02,11.60 L301.31,11.60 L301.60,11.60 L301.89,11.60 L302.19,11.60 L302.48,11.60 L302.77,11.60 L303.06,11.60 L303.35,11.60 L303.64,11.60 L303.93,11.60 L304.22,11.60 L304.51,11.60 L304.80,11.60 L305.09,11.60 L305.38,11.60 L305.68,11.60 L305.97,11.60 L306.26,11.60 L306.55,11.60 L306.84,11.60 L307.13,11.60 L307.42,11.60 L307.71,11.60 L308.00,11.60 L308.29,11.60 L308.58,11.60 L308.87,11.60 L309.17,11.60 L309.46,11.60 L309.75,11.60 L310.04,11.60 L310.33,11.60 L310.62,11.60 L310.91,11.60 L311.20,11.60 L311.49,11.60 L311.78,11.60 L312.07,11.60 L312.36,11.60 L312.66,11.60 L312.95,11.60 L313.24,11.60 L313.53,11.60 L313.82,11.60 L314.11,11.60 L314.40,11.60 L314.69,11.60 L314.98,11.60 L315.27,11.60 L315.56,11.60 L315.85,11.60 L316.14,11.60 L316.44,11.60 L316.73,11.60 L317.02,11.60 L317.31,11.60 L317.60,11.60 L317.89,11.60 L318.18,11.60 L318.47,11.60 L318.76,11.60 L319.05,11.60 L319.34,11.60 L319.63,11.60 L319.93,11.60 L320.22,11.60 L320.51,11.60 L320.80,11.60 L321.09,11.60 L321.38,11.60 L321.67,11.60 L321.96,11.60 L322.25,11.60 L322.54,11.60 L322.83,11.60 L323.12,11.60 L323.42,11.60 L323.71,11.60 L324.00,11.60 L324.29,11.60 L324.58,11.60 L324.87,11.60 L325.16,11.60 L325.45,11.60 L325.74,11.60 L326.03,11.60 L326.32,11.60 L326.61,11.60 L326.91,11.60 L327.20,11.60 L327.49,11.60 L327.78,11.60 L328.07,11.60 L328.36,11.60 L328.65,11.60 L328.94,11.60 L329.23,11.60 L329.52,11.60 L329.81,11.60 L330.10,11.60 L330.40,11.60 L330.69,11.60 L330.98,11.60 L331.27,11.60 L331.56,11.60 L331.85,11.60 L332.14,11.60 L332.43,11.60 L332.72,11.60 L333.01,11.60 L333.30,11.60 L333.59,11.60 L333.89,11.60 L334.18,11.60 L334.47,11.60 L334.76,11.60 L335.05,11.60 L335.34,11.60 L335.63,11.60 L335.92,11.60 L336.21,11.60 L336.50,11.60 L336.79,11.60 L337.08,11.60 L337.38,11.60 L337.67,11.60 L337.96,11.60 L338.25,11.60 L338.54,11.60 L338.83,11.60 L339.12,11.60 L339.41,11.60 L339.70,11.60 L339.99,11.60 L340.28,11.60 L340.57,11.60 L340.87,11.60 L341.16,11.60 L341.45,11.60 L341.74,11.60 L342.03,11.60 L342.32,11.60 L342.61,11.60 L342.90,11.60 L343.19,11.60 L343.48,11.60 L343.77,11.60 L344.06,11.60 L344.36,11.60 L344.65,11.60 L344.94,11.60 L345.23,11.60 L345.52,11.60 L345.81,11.60 L346.10,11.60 L346.39,11.60 L346.68,11.60 L346.97,11.60 L347.26,11.60 L347.55,11.60 L347.84,11.60 L348.14,11.60 L348.43,11.60 L348.72,11.60 L349.01,11.60 L349.30,11.60 L349.59,11.60 L349.88,11.60 L350.17,11.60 L350.46,11.60 L350.75,11.60 L351.04,11.60 L351.33,11.60 L351.63,11.60 L351.92,11.60 L352.21,11.60 L352.50,11.60 L352.79,11.60 L353.08,11.60 L353.37,11.60 L353.66,11.60 L353.95,11.60 L354.24,11.60 L354.53,11.60 L354.82,11.60 L355.12,11.60 L355.41,11.60 L355.70,11.60 L355.99,11.60 L356.28,11.60 L356.57,11.60 L356.86,11.60 L357.15,11.60 L357.44,11.60 L357.73,11.60 L358.02,11.60 L358.31,11.60 L358.61,11.60 L358.90,11.60 L359.19,11.60 L359.48,11.60 L359.77,11.60 L360.06,11.60 L360.35,11.60 L360.64,11.60 L360.93,11.60 L361.22,11.60 L361.51,11.60 L361.80,11.60 L362.10,11.60 L362.39,11.60 L362.68,11.60 L362.97,11.60 L363.26,11.60 L363.55,11.60 L363.84,11.60 L364.13,11.60 L364.42,11.60 L364.71,11.60 L365.00,11.60 L365.29,11.60 L365.59,11.60 L365.88,11.60 L366.17,11.60 L366.46,11.60 L366.75,11.60 L367.04,11.60 L367.33,11.60 L367.62,11.60 L367.91,11.60 L368.20,11.60 L368.49,11.60 L368.78,11.60 L369.08,11.60 L369.37,11.60 L369.66,11.60 L369.95,11.60 L370.24,11.60 L370.53,11.60 L370.82,11.60 L371.11,11.60 L371.40,11.60 L371.69,11.60 L371.98,11.60 L372.27,11.60 L372.57,11.60 L372.86,11.60 L373.15,11.60 L373.44,11.60 L373.73,11.60 L374.02,11.60 L374.31,11.60" fill="none" stroke="#ff00ff" stroke-width="1.75" stroke-linejoin="round" stroke-linecap="square"/>
<path d="M25.32,11.60H374.31M25.32,213.90H374.31" stroke="#6c6c6c" stroke-width="1.45" stroke-dasharray="3.3 2.81" stroke-dashoffset="0" fill="none"/>
<rect x="18.45" y="0.3" width="363.2" height="224.79999999999998" stroke="#929292" stroke-width="1" fill="none"/>
<g stroke="#808080" stroke-width="0.75" fill="none">
<path d="M25.32,225.1v-3.6M25.32,0.3v3.6"/><path d="M36.95,225.1v-2.0M36.95,0.3v2.0"/><path d="M48.59,225.1v-2.0M48.59,0.3v2.0"/><path d="M60.22,225.1v-2.0M60.22,0.3v2.0"/><path d="M71.85,225.1v-2.0M71.85,0.3v2.0"/><path d="M83.49,225.1v-3.6M83.49,0.3v3.6"/><path d="M95.12,225.1v-2.0M95.12,0.3v2.0"/><path d="M106.75,225.1v-2.0M106.75,0.3v2.0"/><path d="M118.38,225.1v-2.0M118.38,0.3v2.0"/><path d="M130.02,225.1v-2.0M130.02,0.3v2.0"/><path d="M141.65,225.1v-3.6M141.65,0.3v3.6"/><path d="M153.28,225.1v-2.0M153.28,0.3v2.0"/><path d="M164.92,225.1v-2.0M164.92,0.3v2.0"/><path d="M176.55,225.1v-2.0M176.55,0.3v2.0"/><path d="M188.18,225.1v-2.0M188.18,0.3v2.0"/><path d="M199.81,225.1v-3.6M199.81,0.3v3.6"/><path d="M211.45,225.1v-2.0M211.45,0.3v2.0"/><path d="M223.08,225.1v-2.0M223.08,0.3v2.0"/><path d="M234.71,225.1v-2.0M234.71,0.3v2.0"/><path d="M246.35,225.1v-2.0M246.35,0.3v2.0"/><path d="M257.98,225.1v-3.6M257.98,0.3v3.6"/><path d="M269.61,225.1v-2.0M269.61,0.3v2.0"/><path d="M281.25,225.1v-2.0M281.25,0.3v2.0"/><path d="M292.88,225.1v-2.0M292.88,0.3v2.0"/><path d="M304.51,225.1v-2.0M304.51,0.3v2.0"/><path d="M316.14,225.1v-3.6M316.14,0.3v3.6"/><path d="M327.78,225.1v-2.0M327.78,0.3v2.0"/><path d="M339.41,225.1v-2.0M339.41,0.3v2.0"/><path d="M351.04,225.1v-2.0M351.04,0.3v2.0"/><path d="M362.68,225.1v-2.0M362.68,0.3v2.0"/><path d="M374.31,225.1v-3.6M374.31,0.3v3.6"/><path d="M18.45,213.90h3.6M381.65,213.90h-3.6"/><path d="M18.45,203.78h2.0M381.65,203.78h-2.0"/><path d="M18.45,193.67h2.0M381.65,193.67h-2.0"/><path d="M18.45,183.56h2.0M381.65,183.56h-2.0"/><path d="M18.45,173.44h3.6M381.65,173.44h-3.6"/><path d="M18.45,163.32h2.0M381.65,163.32h-2.0"/><path d="M18.45,153.21h2.0M381.65,153.21h-2.0"/><path d="M18.45,143.09h2.0M381.65,143.09h-2.0"/><path d="M18.45,132.98h3.6M381.65,132.98h-3.6"/><path d="M18.45,122.86h2.0M381.65,122.86h-2.0"/><path d="M18.45,112.75h2.0M381.65,112.75h-2.0"/><path d="M18.45,102.63h2.0M381.65,102.63h-2.0"/><path d="M18.45,92.52h3.6M381.65,92.52h-3.6"/><path d="M18.45,82.41h2.0M381.65,82.41h-2.0"/><path d="M18.45,72.29h2.0M381.65,72.29h-2.0"/><path d="M18.45,62.17h2.0M381.65,62.17h-2.0"/><path d="M18.45,52.06h3.6M381.65,52.06h-3.6"/><path d="M18.45,41.94h2.0M381.65,41.94h-2.0"/><path d="M18.45,31.83h2.0M381.65,31.83h-2.0"/><path d="M18.45,21.71h2.0M381.65,21.71h-2.0"/><path d="M18.45,11.60h3.6M381.65,11.60h-3.6"/>
</g>
<path d="M141.65,225.1V11.60" stroke="#ff3030" stroke-width="1.2" stroke-dasharray="3.4 2.709" stroke-dashoffset="1.3" fill="none"/>
<g font-size="12.0" fill="#666">
<text transform="translate(35.55,238.00) scale(0.958,1)" text-anchor="end">10</text><text x="15.7" y="238.65" font-size="11">−</text><text transform="translate(90.53,238.00) scale(0.958,1)" text-anchor="end">5</text><text x="76.7" y="238.65" font-size="11">−</text><text transform="translate(144.85,238.00) scale(0.958,1)" text-anchor="end">0</text><text transform="translate(203.01,238.00) scale(0.958,1)" text-anchor="end">5</text><text transform="translate(264.38,238.00) scale(0.958,1)" text-anchor="end">10</text><text transform="translate(322.54,238.00) scale(0.958,1)" text-anchor="end">15</text><text transform="translate(380.71,238.00) scale(0.958,1)" text-anchor="end">20</text>
<text transform="translate(16.20,217.80) scale(0.958,1)" text-anchor="end">0.0</text><text transform="translate(16.20,177.34) scale(0.958,1)" text-anchor="end">0.2</text><text transform="translate(15.65,136.88) scale(0.958,1)" text-anchor="end">0.4</text><text transform="translate(16.20,96.42) scale(0.958,1)" text-anchor="end">0.6</text><text transform="translate(16.20,55.96) scale(0.958,1)" text-anchor="end">0.8</text><text transform="translate(16.20,15.50) scale(0.958,1)" text-anchor="end">1.0</text>
</g>
<text x="175.6" y="255.6" font-size="10.2" fill="#555">−</text>
<text x="224.5" y="255.9" text-anchor="end" font-size="11.3" font-weight="bold" fill="#484848">log(1+z)</text>
<circle cx="141.65" cy="72.29" r="3.05" fill="#ff0000"/>
<circle cx="141.65" cy="153.21" r="3.05" fill="#ff0000"/>
<text x="144.6" y="76.7" font-size="12.6" fill="#ff00ff">Ω</text>
<text x="153.7" y="78.7" font-size="8.8" fill="#ff00ff">DE</text>
<text x="165.7" y="79.6" font-size="12.6" fill="#111">(0,</text>
<text x="185.7" y="79.6" font-size="12.6" fill="#111">0.7)</text>
<rect x="144.3" y="147.5" width="19.7" height="13.4" fill="#e0f5fa"/>
<text x="144.6" y="158.0" font-size="14" fill="#2040ff" stroke="#2040ff" stroke-width="0.25">Ω</text>
<text x="155.0" y="160.6" font-size="10.8" font-style="italic" fill="#2040ff" stroke="#2040ff" stroke-width="0.2">m</text>
<text x="165.3" y="160.3" font-size="12.5" fill="#111">(0,</text>
<text x="184.9" y="160.3" font-size="12.5" fill="#111">0.3)</text>
<rect x="322.7" y="26.7" width="45.5" height="36.9" rx="6.5" fill="#fff" stroke="#000" stroke-width="1"/>
<path d="M326.4,36.2H341.8" stroke="#0000ff" stroke-width="1.7"/>
<path d="M326.4,52.8H341.8" stroke="#ff00ff" stroke-width="1.7"/>
<text x="346.4" y="39.3" font-size="9" font-weight="bold" fill="#000">Ω</text>
<text x="353.0" y="40.8" font-size="7.2" font-weight="bold" font-style="italic" fill="#000">m</text>
<text x="346.4" y="56" font-size="9" font-weight="bold" fill="#000">Ω</text>
<text x="352.6" y="57.6" font-size="7.2" font-weight="bold" fill="#000">DE</text>
</svg>
</body></html>
